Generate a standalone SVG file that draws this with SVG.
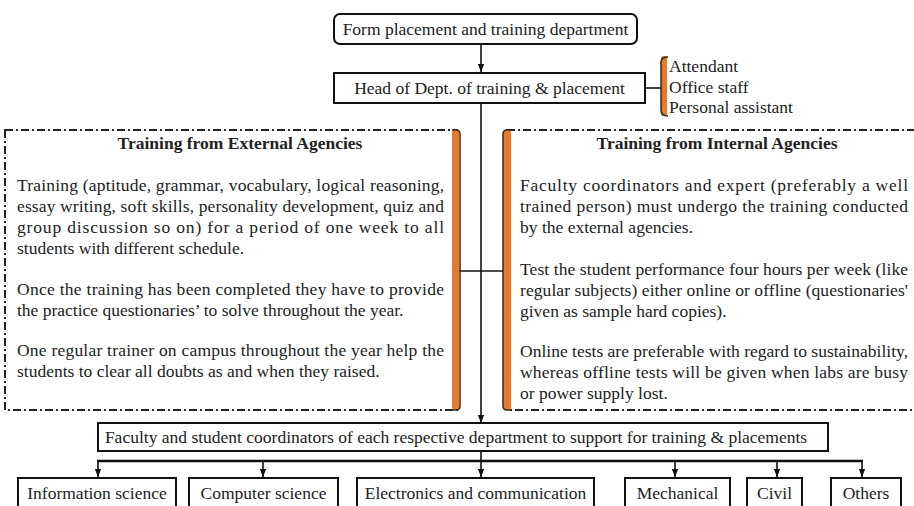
<svg xmlns="http://www.w3.org/2000/svg" width="914" height="506" viewBox="0 0 914 506">
<defs>
<style>
text{font-family:"Liberation Serif","Times New Roman",serif;font-size:17.5px;fill:#222;}
.b{font-weight:bold;}
.box{fill:#fff;stroke:#111;stroke-width:2;}
.dd{fill:#fff;stroke:#222;stroke-width:2;stroke-dasharray:8 3 2 3;}
.ln{fill:none;stroke:#111;stroke-width:1.6;}
.or{fill:#e8782a;stroke:none;}
.ed{fill:none;stroke:#3a2a1a;stroke-width:1.5;}
</style>
<marker id="ah" viewBox="0 0 10 10" refX="10" refY="5" markerWidth="5" markerHeight="5" orient="auto">
<path d="M0,1 L10,5 L0,9 z" fill="#111"/>
</marker>
</defs>
<rect width="914" height="506" fill="#fff"/>

<g id="connectors">
<line class="ln" x1="481" y1="44" x2="481" y2="72" marker-end="url(#ah)"/>
<line class="ln" x1="481" y1="103" x2="481" y2="423" marker-end="url(#ah)"/>
<line class="ln" x1="645" y1="88" x2="661" y2="88"/>
<line class="ln" x1="459" y1="271" x2="503" y2="271"/>
<line class="ln" x1="481" y1="451" x2="481" y2="477" marker-end="url(#ah)"/>
<line x1="97" y1="461" x2="863" y2="461" stroke="#111" stroke-width="2.4"/>
<line class="ln" x1="98" y1="461" x2="98" y2="477" marker-end="url(#ah)"/>
<line class="ln" x1="263" y1="461" x2="263" y2="477" marker-end="url(#ah)"/>
<line class="ln" x1="675" y1="461" x2="675" y2="477" marker-end="url(#ah)"/>
<line class="ln" x1="777" y1="461" x2="777" y2="477" marker-end="url(#ah)"/>
<line class="ln" x1="862" y1="461" x2="862" y2="477" marker-end="url(#ah)"/>
</g>

<g id="form-placement">
<rect class="box" x="334" y="14" width="303" height="30" rx="6"/>
<text x="485.5" y="35" text-anchor="middle">Form placement and training department</text>
</g>

<g id="head-dept">
<rect class="box" x="334" y="73" width="311" height="30"/>
<text x="489.5" y="94" text-anchor="middle">Head of Dept. of training &amp; placement</text>
</g>

<g id="staff">
<rect class="or" x="661" y="56" width="6" height="60" rx="2"/>
<path class="ed" d="M668,57 Q661,57 661,62 L661,110 Q661,116 668,116"/>
<text x="669" y="72">Attendant</text>
<text x="669" y="93">Office staff</text>
<text x="669" y="113">Personal assistant</text>
</g>

<g id="external">
<rect class="dd" x="5" y="130" width="452" height="280"/>
<rect class="or" x="452" y="130" width="7" height="280" rx="3"/>
<path class="ed" d="M452,130 L456,130 Q460,130 460,134 L460,406 Q460,410 456,410 L452,410"/>
<text class="b" x="240" y="149" text-anchor="middle">Training from External Agencies</text>
<text x="17" y="191" textLength="427" lengthAdjust="spacing">Training (aptitude, grammar, vocabulary, logical reasoning,</text>
<text x="17" y="212" textLength="427" lengthAdjust="spacing">essay writing, soft skills, personality development, quiz and</text>
<text x="17" y="233" textLength="427" lengthAdjust="spacing">group discussion so on) for a period of one week to all</text>
<text x="17" y="254">students with different schedule.</text>
<text x="17" y="295" textLength="427" lengthAdjust="spacing">Once the training has been completed they have to provide</text>
<text x="17" y="316">the practice questionaries’ to solve throughout the year.</text>
<text x="17" y="356" textLength="427" lengthAdjust="spacing">One regular trainer on campus throughout the year help the</text>
<text x="17" y="377">students to clear all doubts as and when they raised.</text>
</g>

<g id="internal">
<rect class="dd" x="507" y="130" width="412" height="280"/>
<rect class="or" x="503" y="130" width="8" height="280" rx="3"/>
<path class="ed" d="M511,130 L507,130 Q503,130 503,134 L503,406 Q503,410 507,410 L511,410"/>
<text class="b" x="717" y="149" text-anchor="middle">Training from Internal Agencies</text>
<text x="520" y="191" textLength="388" lengthAdjust="spacing">Faculty coordinators and expert (preferably a well</text>
<text x="520" y="212" textLength="388" lengthAdjust="spacing">trained person) must undergo the training conducted</text>
<text x="520" y="233">by the external agencies.</text>
<text x="520" y="275" textLength="388" lengthAdjust="spacing">Test the student performance four hours per week (like</text>
<text x="520" y="296" textLength="388" lengthAdjust="spacing">regular subjects) either online or offline (questionaries'</text>
<text x="520" y="317">given as sample hard copies).</text>
<text x="520" y="357" textLength="388" lengthAdjust="spacing">Online tests are preferable with regard to sustainability,</text>
<text x="520" y="378" textLength="388" lengthAdjust="spacing">whereas offline tests will be given when labs are busy</text>
<text x="520" y="399">or power supply lost.</text>
</g>

<g id="coordinators">
<rect class="box" x="98" y="423" width="730" height="28"/>
<text x="456" y="443" text-anchor="middle">Faculty and student coordinators of each respective department to support for training &amp; placements</text>
</g>

<g id="info-science">
<rect class="box" x="18" y="478" width="158" height="34"/>
<text x="97" y="499" text-anchor="middle">Information science</text>
</g>
<g id="computer-science">
<rect class="box" x="189" y="478" width="149" height="34"/>
<text x="263.5" y="499" text-anchor="middle">Computer science</text>
</g>
<g id="electronics">
<rect class="box" x="357" y="478" width="237" height="34"/>
<text x="475.5" y="499" text-anchor="middle">Electronics and communication</text>
</g>
<g id="mechanical">
<rect class="box" x="625" y="478" width="105" height="34"/>
<text x="677.5" y="499" text-anchor="middle">Mechanical</text>
</g>
<g id="civil">
<rect class="box" x="747" y="478" width="55" height="34"/>
<text x="774.5" y="499" text-anchor="middle">Civil</text>
</g>
<g id="others">
<rect class="box" x="831" y="478" width="70" height="34"/>
<text x="866" y="499" text-anchor="middle">Others</text>
</g>
</svg>
